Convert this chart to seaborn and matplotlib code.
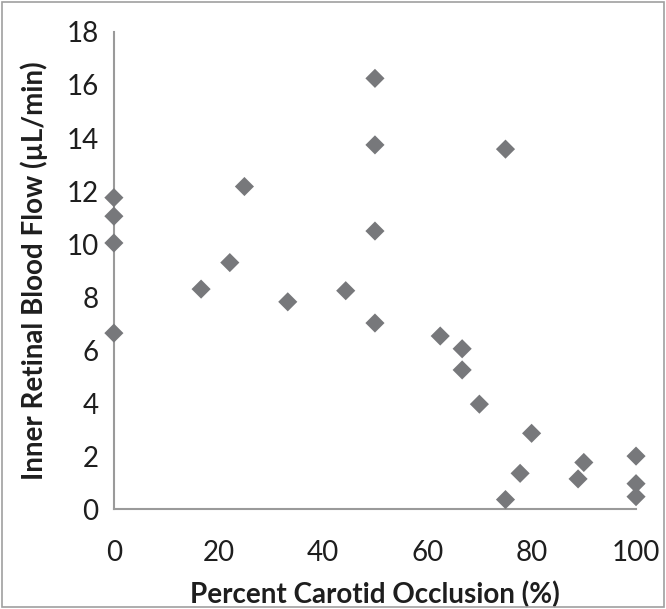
"""
Inner retinal blood flow versus percent carotid occlusion (scatter).
"""
import matplotlib
matplotlib.use("Agg")
import matplotlib.pyplot as plt
import seaborn as sns
import pandas as pd

# data
occlusion = [0, 0, 0, 0, 16.7, 22.2, 25, 33.3, 44.4,
             50, 50, 50, 50, 62.5, 66.7, 66.7, 70,
             75, 75, 77.8, 80, 88.9, 90, 100, 100, 100]
blood_flow = [11.75, 11.05, 10.04, 6.64, 8.3, 9.3, 12.17, 7.82, 8.24,
              16.25, 13.74, 10.49, 7.02, 6.53, 6.05, 5.25, 3.96,
              13.58, 0.36, 1.35, 2.86, 1.14, 1.76, 2.0, 0.96, 0.47]
x_ticks = [0, 20, 40, 60, 80, 100]
y_ticks = [0, 2, 4, 6, 8, 10, 12, 14, 16, 18]

sns.set_style("white")
plt.rcParams['font.family'] = ['Lato', 'DejaVu Sans']

df = pd.DataFrame({'occlusion': occlusion, 'flow': blood_flow})

AXIS_GREY = '#9a9a9a'
MARKER_GREY = '#77787b'
TEXT = '#1e1e1e'

fig = plt.figure(figsize=(6.66, 6.09), dpi=100)
ax = fig.add_axes([0.171, 0.164, 0.784, 0.7835])

sns.scatterplot(data=df, x='occlusion', y='flow', marker='D', s=95,
                color=MARKER_GREY, edgecolor='none', ax=ax, clip_on=False,
                zorder=3)

ax.set_xlim(0, 100)
ax.set_ylim(0, 18)
ax.set_xticks(x_ticks)
ax.set_yticks(y_ticks)
for sp in ['top', 'right']:
    ax.spines[sp].set_visible(False)
for sp in ['left', 'bottom']:
    ax.spines[sp].set_color(AXIS_GREY)
    ax.spines[sp].set_linewidth(1.5)
ax.tick_params(axis='both', direction='out', length=6, width=1.2,
               color=AXIS_GREY, labelsize=20, labelcolor=TEXT)
ax.tick_params(axis='x', pad=16)
ax.tick_params(axis='y', pad=5)
ax.set_xlabel('Percent Carotid Occlusion (%)', fontsize=20,
              fontweight='bold', color=TEXT, labelpad=11)
ax.set_ylabel('Inner Retinal Blood Flow (µL/min)', fontsize=20,
              fontweight='bold', color=TEXT, labelpad=13)

# thin grey frame around the whole figure
fig.patches.append(plt.Rectangle((0.003, 0.003), 0.994, 0.994,
                                 transform=fig.transFigure, fill=False,
                                 edgecolor='#a0a0a0', linewidth=1.2))

fig.savefig('out.png', dpi=100)
